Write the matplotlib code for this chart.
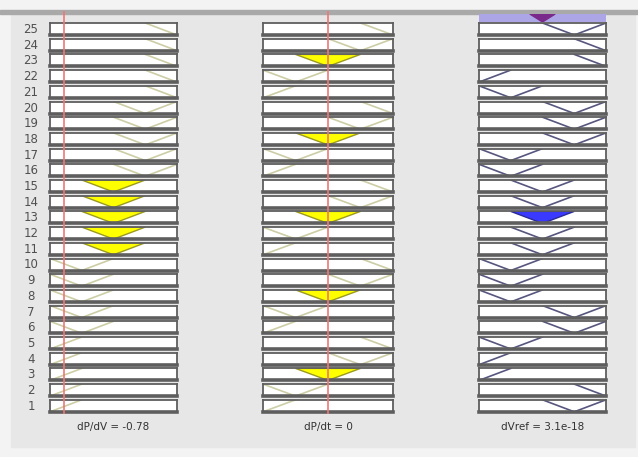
import matplotlib
matplotlib.use('Agg')
import matplotlib.pyplot as plt
import matplotlib.patches as mpatches

# rule rows, 1 at the bottom .. 25 at the top (picture is upside down)
rule_ids = list(range(1, 26))
in1_terms = ['NB']*5 + ['NS']*5 + ['ZE']*5 + ['PS']*5 + ['PB']*5
in2_terms = ['NB', 'NS', 'ZE', 'PS', 'PB']*5
out_terms = ['PS', 'PB', 'NB', 'NB', 'NS',
             'PS', 'PS', 'NS', 'NS', 'NS',
             'ZE', 'ZE', 'ZE', 'ZE', 'ZE',
             'NS', 'NS', 'PS', 'PS', 'PS',
             'NS', 'NB', 'PB', 'PB', 'PS']
in1_fired = [11, 12, 13, 14, 15]
in2_fired = [3, 8, 13, 18, 23]
out_fired = [13]
term_centers = {'NB': -1.0, 'NS': -0.5, 'ZE': 0.0, 'PS': 0.5, 'PB': 1.0}
half_width = 0.5
in1_value = -0.78
in2_value = 0
out_value = 3.1e-18
labels = ['dP/dV = -0.78', 'dP/dt = 0', 'dVref = 3.1e-18']

W, H = 638, 457
fig = plt.figure(figsize=(W/100, H/100), dpi=100)
fig.patch.set_facecolor('#f3f3f3')

def px_ax(x0, y0, x1, y1, **kw):
    return fig.add_axes([x0/W, 1-y1/H, (x1-x0)/W, (y1-y0)/H], **kw)

# background panel and top bar
fig.patches.append(mpatches.Rectangle((11/W, 1-447/H), 624/W, 433/H,
                   transform=fig.transFigure, color='#e7e7e7', zorder=-10))
fig.patches.append(mpatches.Rectangle((0, 1-14/H), 1, 4/H,
                   transform=fig.transFigure, color='#a9a9a9', zorder=-9))

cols = [(50, 177), (263, 393), (479, 606)]
col_terms = [in1_terms, in2_terms, out_terms]
col_fired = [in1_fired, in2_fired, out_fired]
line_cols = ['#cdcda6', '#cdcda6', '#56567f']
fill_cols = [('#ffff00', '#9a9a20'), ('#ffff00', '#9a9a20'), ('#3a3aff', '#2a2a9a')]

for r in rule_ids:
    top = 23 + 15.7*(25-r)
    bot = top + 12
    fig.text(31/W, 1-(top+6.5)/H, str(r), ha='center', va='center',
             fontsize=8.5, color='#505050')
    for c, (x0, x1) in enumerate(cols):
        ax = px_ax(x0, top, x1, bot)
        ax.set_facecolor('white')
        term = col_terms[c][r-1]
        m = term_centers[term]
        xs = [m-half_width, m, m+half_width]
        ys = [0, 1, 0]
        if r in col_fired[c]:
            ax.fill(xs, ys, color=fill_cols[c][0], ec=fill_cols[c][1], lw=1)
        else:
            ax.plot(xs, ys, color=line_cols[c], lw=1.2)
        ax.set_xlim(-1, 1)
        ax.set_ylim(1, 0)
        ax.set_xticks([])
        ax.set_yticks([])
        for s in ax.spines.values():
            s.set_color('#5e5e5e')
            s.set_linewidth(1.3)
        ax.spines['bottom'].set_linewidth(2.6)

# aggregated output strip at the top of the output column
agg = px_ax(479, 14, 606, 22)
agg.set_facecolor('#aca6e6')
agg.fill([out_value-0.2, out_value, out_value+0.2], [0, 1, 0], color='#7a2a8a')
agg.set_xlim(-1, 1)
agg.set_ylim(1, 0)
agg.set_xticks([])
agg.set_yticks([])
for s in agg.spines.values():
    s.set_visible(False)

# input value lines
for (x0, x1), v in zip(cols[:2], [in1_value, in2_value]):
    ov = px_ax(x0, 11, x1, 414)
    ov.axvline(v, color='#ee7777', lw=1.2)
    ov.set_xlim(-1, 1)
    ov.axis('off')

for (x0, x1), lab in zip(cols, labels):
    fig.text((x0+x1)/2/W, 1-427/H, lab, ha='center', va='center',
             fontsize=7.5, color='#333333')

fig.savefig('out.png', dpi=100, facecolor=fig.get_facecolor())
